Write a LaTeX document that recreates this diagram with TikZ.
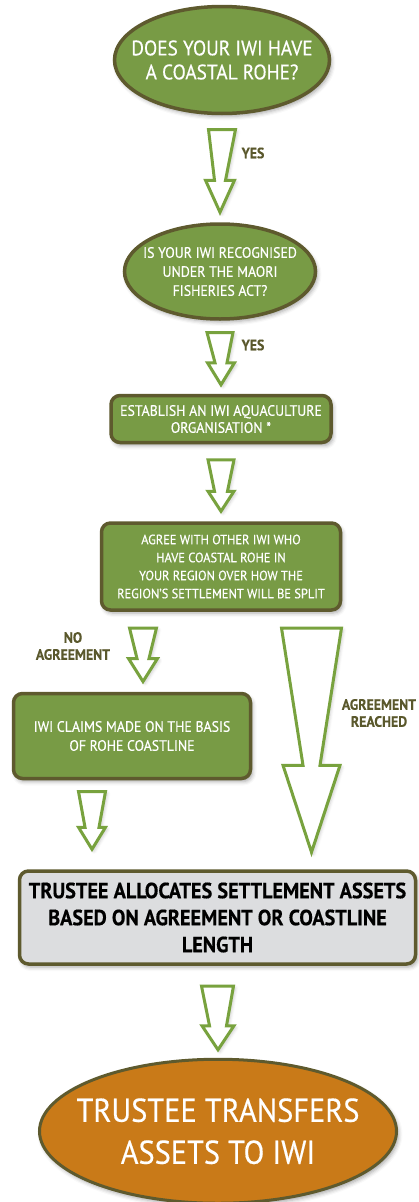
\documentclass[tikz,border=0pt]{standalone}
\usepackage{fontspec}
\setmainfont{PT Sans}[FakeStretch=0.92, FakeBold=0.4]
\usetikzlibrary{positioning}
\usetikzlibrary{calc}
\usetikzlibrary{shapes.geometric}
\usetikzlibrary{shadows.blur}
\definecolor{iwigreen}{HTML}{789B45}
\definecolor{iwiborder}{HTML}{5E5A2E}
\definecolor{arrowgreen}{HTML}{78A23E}
\definecolor{labeltext}{HTML}{5A582C}
\definecolor{trusteegrey}{HTML}{DCDDDF}
\definecolor{transferorange}{HTML}{C97A18}
% hollow block arrow: start, tip, top width, stem width, head width, head length
\newcommand{\blockarrow}[6]{%
\path[arrowbody] let \p1=(#1), \p2=(#2) in
  (\x1-#3pt/2,\y1) -- (\x1+#3pt/2,\y1) -- (\x2+#4pt/2,\y2+#6pt) -- (\x2+#5pt/2,\y2+#6pt)
  -- (\x2,\y2) -- (\x2-#5pt/2,\y2+#6pt) -- (\x2-#4pt/2,\y2+#6pt) -- cycle;%
}
\newcommand{\fs}[2]{\fontsize{#1}{#2}\selectfont}

\begin{document}
\begin{tikzpicture}[
x=1pt, y=-1pt,
softshadow/.style={blur shadow={shadow xshift=2pt, shadow yshift=-3pt, shadow blur radius=4pt, shadow opacity=35}},
questionnode/.style={ellipse, draw=iwiborder, fill=iwigreen, line width=3.5pt, text=white, align=center, inner xsep=-30pt, inner ysep=0pt, softshadow},
stepnode/.style={rectangle, rounded corners=9pt, draw=iwiborder, fill=iwigreen, line width=3.5pt, text=white, align=center, inner sep=0pt, softshadow},
trusteenode/.style={rectangle, rounded corners=9pt, draw=iwiborder, fill=trusteegrey, line width=3.5pt, text=black, align=center, inner sep=0pt, softshadow},
transfernode/.style={ellipse, draw=iwiborder, fill=transferorange, line width=3pt, text=white, align=center, inner xsep=-30pt, inner ysep=0pt, softshadow},
labelnode/.style={text=labeltext, font=\bfseries\fs{15}{17}, align=center, inner sep=0pt},
arrowbody/.style={draw=arrowgreen, fill=white, line width=3pt, line join=miter, blur shadow={shadow xshift=2pt, shadow yshift=-2pt, shadow blur radius=3pt, shadow opacity=20}},
]
\useasboundingbox (0,0) rectangle (418,1202);

%Nodes
\node[questionnode, minimum width=215pt, minimum height=107pt, font=\fs{21}{24}]	(coastal)	at (222,60)	{DOES YOUR IWI HAVE\\A COASTAL ROHE?};
\node[questionnode, minimum width=191pt, minimum height=95pt, font=\fs{15}{19}]	(recognised)	[below=107pt of coastal, xshift=-2pt]	{IS YOUR IWI RECOGNISED\\UNDER THE MAORI\\FISHERIES ACT?};
\node[stepnode, minimum width=220pt, minimum height=47pt, font=\fs{15}{17}]	(establish)	[below=73pt of recognised, xshift=1pt]	{ESTABLISH AN IWI AQUACULTURE\\ORGANISATION *};
\node[stepnode, minimum width=239pt, minimum height=87pt, font=\fs{13.5}{18}]	(agree)	[below=77pt of establish]	{AGREE WITH OTHER IWI WHO\\HAVE COASTAL ROHE IN\\YOUR REGION OVER HOW THE\\REGION'S SETTLEMENT WILL BE SPLIT};
\node[stepnode, minimum width=237pt, minimum height=85pt, font=\fs{15}{19}]	(claims)	[below=80pt of agree, xshift=-89pt]	{IWI CLAIMS MADE ON THE BASIS\\OF ROHE COASTLINE};
\node[trusteenode, minimum width=396pt, minimum height=93pt, font=\bfseries\fs{22}{27}]	(trustee)	[below=89pt of claims, xshift=85.5pt]	{TRUSTEE ALLOCATES SETTLEMENT ASSETS\\BASED ON AGREEMENT OR COASTLINE\\LENGTH};
\node[transfernode, minimum width=357pt, minimum height=144pt, font=\fs{33}{42}]	(transfers)	[below=92pt of trustee, xshift=0.5pt]	{TRUSTEE TRANSFERS\\ASSETS TO IWI};

%Labels
\node[labelnode]	(yes1)	at (253,153)	{YES};
\node[labelnode]	(yes2)	at (253,345)	{YES};
\node[labelnode]	(noagree)	at (73,646)	{NO\\AGREEMENT};
\node[labelnode]	(reached)	at (379,713)	{AGREEMENT\\REACHED};

%Arrows
\blockarrow{$(coastal.south)+(0,14.25)$}{$(recognised.north)+(0,-10)$}{27}{11}{29}{32}
\blockarrow{$(recognised.south)+(0,11.75)$}{$(establish.north)+(0,-9)$}{26}{12}{27}{22}
\blockarrow{$(establish.south)+(0,15.5)$}{$(agree.north)+(0,-10)$}{26}{13}{26}{20}
\blockarrow{$(agree.south)+(-78,16.25)$}{$(claims.north)+(11,-10.25)$}{27}{12}{29}{23}
\blockarrow{$(agree.south)+(90.5,16.25)$}{$(trustee.north)+(94,-17)$}{60}{17}{57}{87}
\blockarrow{$(claims.south)+(-40,11.25)$}{$(trustee.north)+(-125.5,-20)$}{27}{14}{27}{22}
\blockarrow{$(trustee.south)+(0,20.25)$}{$(transfers.north)+(0,-8)$}{32}{17}{32}{24}
\end{tikzpicture}
\end{document}
